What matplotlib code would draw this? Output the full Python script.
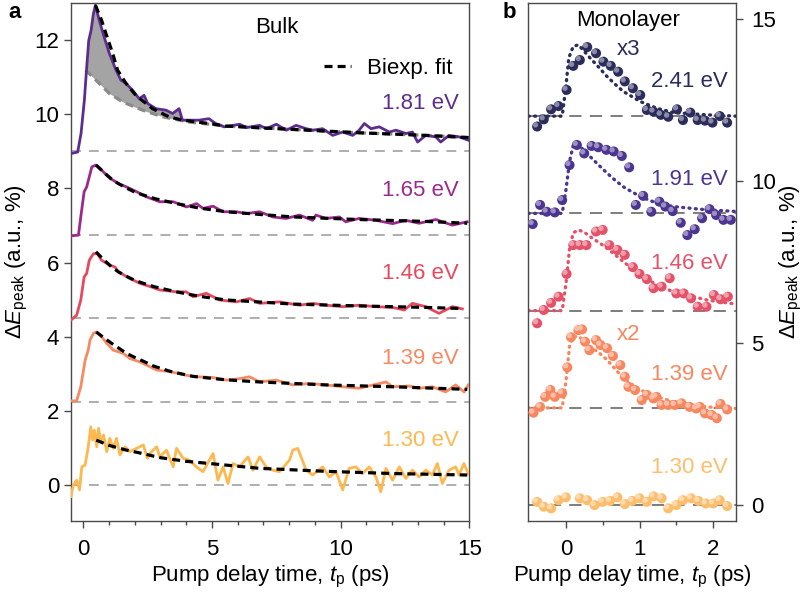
import numpy as np
import matplotlib
matplotlib.use("Agg")
import matplotlib.pyplot as plt
from matplotlib.lines import Line2D
from matplotlib.transforms import ScaledTranslation

plt.rcParams['font.family'] = ['Liberation Sans', 'DejaVu Sans']
plt.rcParams['mathtext.fontset'] = 'custom'
plt.rcParams['mathtext.rm'] = 'Liberation Sans'
plt.rcParams['mathtext.it'] = 'Liberation Sans:italic'
plt.rcParams['font.size'] = 16

# ---------------- Bulk (panel a) ----------------
bulk_labels = ["1.81 eV", "1.65 eV", "1.46 eV", "1.39 eV", "1.30 eV"]
bulk_offsets = [9.0, 6.75, 4.5, 2.25, 0.0]
bulk_colors = ["#5c2d8f", "#9b2a8c", "#e8485f", "#f68a62", "#fdb84f"]

b181_t = [-0.48, -0.22, -0.09, 0.04, 0.13, 0.21, 0.30, 0.39, 0.47, 0.62, 0.81, 1.01, 1.27, 1.46, 1.66,
          1.91, 2.17, 2.36, 2.50, 2.82, 3.21, 3.47, 3.72, 3.85, 4.25, 4.50, 4.88, 5.14, 5.47, 6.08,
          6.34, 6.85, 7.11, 7.50, 7.89, 8.27, 8.66, 8.92, 9.30, 9.69, 10.08, 10.47, 10.72, 10.92, 11.18,
          11.50, 11.89, 12.15, 12.54, 12.79, 12.99, 13.31, 13.70, 13.89, 14.21, 14.60, 14.96]
b181_v = [8.94, 8.98, 9.48, 10.38, 11.27, 11.99, 12.26, 12.71, 12.94, 12.53, 12.08, 11.64, 11.19, 10.92, 10.83,
          10.65, 10.42, 10.51, 10.29, 10.15, 10.11, 10.02, 10.15, 9.84, 9.84, 9.84, 9.88, 9.75, 9.66, 9.73,
          9.64, 9.70, 9.61, 9.73, 9.57, 9.70, 9.61, 9.57, 9.61, 9.43, 9.52, 9.43, 9.57, 9.75, 9.61,
          9.66, 9.52, 9.57, 9.48, 9.52, 9.25, 9.43, 9.39, 9.25, 9.43, 9.39, 9.30]

b165_t = [-0.48, -0.19, -0.10, 0.03, 0.13, 0.23, 0.33, 0.49, 0.65, 0.84, 1.03, 1.16, 1.36, 1.68, 2.07,
          2.46, 2.97, 3.49, 4.01, 4.40, 4.65, 5.04, 5.43, 5.95, 6.33, 6.85, 7.36, 7.88, 8.40, 8.91,
          9.04, 9.43, 9.95, 10.20, 10.72, 11.37, 12.02, 12.53, 13.05, 13.70, 14.34, 14.92]
b165_v = [6.72, 6.74, 7.23, 7.91, 8.04, 8.31, 8.58, 8.63, 8.54, 8.40, 8.27, 8.22, 8.13, 8.04, 7.91,
          7.77, 7.64, 7.64, 7.50, 7.59, 7.46, 7.52, 7.37, 7.37, 7.32, 7.37, 7.23, 7.19, 7.28, 7.14,
          7.28, 7.19, 7.23, 7.10, 7.19, 7.14, 7.05, 7.14, 7.06, 7.16, 7.01, 7.10]

b146_t = [-0.48, -0.26, -0.10, 0.03, 0.13, 0.23, 0.39, 0.54, 0.71, 1.03, 1.23, 1.36, 1.81, 2.20, 2.65,
          2.97, 3.62, 4.00, 4.26, 4.78, 5.30, 5.95, 6.46, 6.85, 7.62, 8.40, 8.91, 9.43, 10.08, 10.72,
          11.37, 12.02, 12.47, 12.79, 13.31, 13.82, 14.34, 14.73]
b146_v = [4.45, 4.58, 4.99, 5.61, 5.71, 6.06, 6.24, 6.24, 6.06, 5.93, 5.88, 5.75, 5.57, 5.44, 5.34,
          5.26, 5.21, 5.21, 5.08, 5.17, 4.99, 4.94, 5.03, 4.90, 4.94, 4.85, 4.90, 4.85, 4.81, 4.85,
          4.81, 4.79, 4.72, 4.90, 4.81, 4.63, 4.81, 4.75]

b139_t = [-0.48, -0.26, -0.10, 0.07, 0.19, 0.26, 0.39, 0.50, 0.71, 0.91, 1.16, 1.55, 1.81, 2.20, 2.59,
          2.85, 3.36, 4.01, 4.40, 5.04, 5.56, 6.08, 6.46, 6.85, 7.49, 8.14, 8.78, 9.43, 10.08, 10.72,
          11.76, 12.02, 12.66, 13.05, 13.57, 14.08, 14.47, 14.80, 14.96]
b139_v = [2.27, 2.27, 2.65, 3.37, 3.64, 3.91, 4.09, 4.13, 4.00, 3.82, 3.64, 3.55, 3.41, 3.32, 3.19,
          3.10, 3.06, 2.96, 2.92, 2.90, 2.83, 2.87, 2.92, 2.78, 2.83, 2.70, 2.74, 2.70, 2.65, 2.61,
          2.78, 2.65, 2.67, 2.61, 2.65, 2.51, 2.70, 2.51, 2.70]

b130_t = [-0.48, -0.39, -0.26, -0.15, -0.06, 0.07, 0.19, 0.29, 0.36, 0.43, 0.52, 0.59, 0.68, 0.78, 0.91,
          1.03, 1.16, 1.29, 1.42, 1.62, 1.81, 2.07, 2.33, 2.49, 2.65, 2.85, 2.97, 3.23, 3.49, 3.62,
          3.88, 4.13, 4.39, 4.65, 5.04, 5.23, 5.43, 5.62, 5.82, 6.07, 6.40, 6.59, 6.85, 7.10, 7.36,
          7.62, 8.01, 8.14, 8.33, 8.46, 8.66, 8.91, 9.30, 9.56, 9.82, 10.08, 10.33, 10.59, 10.85, 11.11,
          11.37, 11.56, 11.76, 12.02, 12.28, 12.53, 12.79, 13.05, 13.31, 13.56, 13.76, 13.95, 14.21, 14.47,
          14.60, 14.79, 14.96]
b130_v = [-0.31, 0.00, 0.13, -0.13, 0.49, 0.54, 1.03, 1.57, 1.21, 1.48, 1.03, 1.53, 1.17, 1.35, 0.90,
          1.26, 0.99, 1.26, 0.81, 1.03, 0.90, 0.99, 1.08, 0.72, 0.90, 1.03, 0.76, 0.94, 0.49, 0.99,
          0.72, 0.67, 0.49, 0.36, 0.85, 0.13, 0.49, 0.04, 0.58, 0.49, 0.76, 0.40, 0.76, 0.49, 0.40,
          0.36, 0.67, 0.94, 0.99, 0.76, 0.40, 0.27, 0.49, 0.22, 0.36, -0.13, 0.45, 0.49, 0.31, 0.49,
          0.22, -0.18, 0.45, 0.13, 0.49, 0.18, 0.40, 0.22, 0.40, 0.27, 0.58, 0.04, 0.40, 0.49,
          0.27, 0.58, 0.31]

# biexponential fits
f181_t = [0.47, 0.70, 0.88, 1.14, 1.33, 1.66, 2.04, 2.69, 3.33, 3.85, 4.88, 5.56, 8.14, 10.72, 13.31, 15.0]
f181_v = [12.94, 12.55, 12.17, 11.64, 11.19, 10.83, 10.51, 10.15, 9.93, 9.84, 9.75, 9.68, 9.59, 9.50, 9.43, 9.37]
f165_t = [0.49, 0.80, 1.10, 1.36, 1.70, 2.00, 2.33, 2.80, 3.62, 4.50, 5.56, 7.00, 8.14, 10.72, 13.30, 14.92]
f165_v = [8.63, 8.43, 8.25, 8.13, 8.00, 7.90, 7.82, 7.72, 7.59, 7.47, 7.37, 7.29, 7.23, 7.16, 7.11, 7.06]
f146_t = [0.49, 0.80, 1.10, 1.36, 1.70, 2.00, 2.33, 2.80, 3.62, 4.50, 5.56, 7.00, 8.14, 10.72, 13.30, 14.73]
f146_v = [6.29, 6.07, 5.88, 5.75, 5.62, 5.52, 5.44, 5.34, 5.21, 5.09, 4.99, 4.93, 4.88, 4.83, 4.79, 4.76]
f139_t = [0.50, 0.80, 1.10, 1.40, 1.68, 2.00, 2.30, 2.72, 3.40, 4.26, 5.50, 6.85, 9.43, 12.02, 14.92]
f139_v = [4.13, 3.97, 3.82, 3.68, 3.55, 3.44, 3.35, 3.21, 3.06, 2.93, 2.84, 2.78, 2.70, 2.65, 2.58]
f130_t = [0.50, 1.00, 1.68, 2.30, 2.97, 4.00, 4.91, 6.85, 9.43, 12.02, 14.92]
f130_v = [1.21, 1.07, 0.94, 0.85, 0.74, 0.64, 0.58, 0.45, 0.37, 0.31, 0.27]

# slow component (grey dashed) of 1.81 eV fit
slow181_t = [0.09, 0.62, 1.01, 1.53, 2.30, 3.08, 4.11, 5.56, 8.14, 10.72, 13.31, 15.0]
slow181_v = [11.19, 10.83, 10.56, 10.33, 10.11, 9.93, 9.79, 9.68, 9.59, 9.50, 9.43, 9.37]

bulk_data = [(b181_t, b181_v), (b165_t, b165_v), (b146_t, b146_v), (b139_t, b139_v), (b130_t, b130_v)]
bulk_fits = [(f181_t, f181_v), (f165_t, f165_v), (f146_t, f146_v), (f139_t, f139_v), (f130_t, f130_v)]
bulk_label_y = [10.3, 7.95, 5.7, 3.4, 1.2]

# ---------------- Monolayer (panel b) ----------------
mono_labels = ["2.41 eV", "1.91 eV", "1.46 eV", "1.39 eV", "1.30 eV"]
mono_offsets = [12.0, 9.0, 6.0, 3.0, 0.0]
mono_colors = ["#2c2c5c", "#4b3590", "#e4526a", "#f6875f", "#fcbe6c"]

m241_t = [-0.39, -0.30, -0.20, -0.10, 0.01, 0.10, 0.19, 0.29, 0.41, 0.51, 0.61, 0.71, 0.80, 0.91, 1.01,
          1.10, 1.19, 1.29, 1.39, 1.51, 1.59, 1.69, 1.79, 1.89, 1.99, 2.09, 2.19]
m241_v = [11.68, 11.90, 12.21, 12.31, 12.81, 13.55, 13.73, 14.13, 13.94, 13.68, 13.55, 13.37, 13.07, 12.86, 12.65,
          12.19, 12.14, 12.04, 11.98, 12.21, 11.88, 12.11, 11.88, 11.86, 11.80, 12.00, 11.80]
m191_t = [-0.45, -0.35, -0.26, -0.15, -0.05, 0.05, 0.15, 0.25, 0.35, 0.44, 0.55, 0.65, 0.76, 0.86, 0.95,
          1.05, 1.16, 1.27, 1.35, 1.45, 1.56, 1.65, 1.75, 1.85, 1.95, 2.04, 2.14, 2.24]
m191_v = [8.67, 9.26, 9.05, 9.03, 9.41, 10.49, 11.11, 10.85, 11.08, 11.04, 10.96, 10.91, 10.77, 10.42, 9.26,
          9.54, 9.05, 9.36, 9.21, 9.07, 8.71, 8.33, 8.51, 8.85, 9.13, 8.95, 8.80, 8.80]
m146_t = [-0.39, -0.30, -0.20, -0.10, 0.01, 0.10, 0.19, 0.28, 0.41, 0.50, 0.59, 0.70, 0.80, 0.91, 1.00,
          1.10, 1.19, 1.30, 1.41, 1.50, 1.60, 1.70, 1.79, 1.91, 2.01, 2.10, 2.20]
m146_v = [5.61, 6.02, 6.24, 6.43, 7.13, 8.02, 8.02, 8.02, 8.44, 8.49, 8.02, 7.87, 7.72, 7.34, 7.13,
          6.97, 6.69, 6.74, 7.00, 6.53, 6.53, 6.38, 6.12, 6.12, 6.48, 6.35, 6.43]
m139_t = [-0.44, -0.35, -0.28, -0.21, -0.15, -0.05, 0.02, 0.07, 0.17, 0.22, 0.26, 0.32, 0.41, 0.47, 0.56,
          0.64, 0.74, 0.80, 0.85, 0.94, 1.03, 1.10, 1.19, 1.23, 1.30, 1.39, 1.48, 1.57, 1.68, 1.77,
          1.82, 1.89, 1.98, 2.05, 2.10, 2.19]
m139_v = [2.85, 3.03, 3.34, 3.55, 3.34, 3.45, 4.25, 5.18, 5.40, 5.42, 5.04, 4.78, 5.09, 4.94, 4.84,
          4.60, 4.32, 3.96, 3.65, 3.55, 3.24, 3.40, 3.29, 3.34, 3.09, 3.09, 3.09, 3.14, 3.03, 2.98,
          3.03, 2.83, 2.78, 2.68, 3.12, 2.95]
m130_t = [-0.39, -0.30, -0.20, -0.10, 0.00, 0.19, 0.29, 0.39, 0.50, 0.60, 0.70, 0.80, 0.90, 1.00, 1.10,
          1.19, 1.30, 1.39, 1.50, 1.59, 1.70, 1.80, 1.90, 2.00, 2.09, 2.19]
m130_v = [0.10, -0.05, -0.10, 0.15, 0.24, 0.21, 0.15, 0.00, 0.10, 0.13, 0.24, 0.03, 0.13, 0.21, 0.10,
          0.27, 0.21, -0.10, 0.00, 0.15, 0.21, 0.13, 0.05, 0.05, 0.15, -0.03]

# dotted fits
g241_t = [-0.51, -0.05, 0.00, 0.04, 0.10, 0.17, 0.25, 0.33, 0.45, 0.56, 0.67, 0.78, 0.90, 1.01, 1.24, 1.46, 1.91, 2.31]
g241_v = [12.0, 12.0, 12.9, 13.8, 14.15, 14.2, 14.0, 13.79, 13.5, 13.22, 12.98, 12.76, 12.6, 12.45, 12.24, 12.11, 12.04, 12.0]
g191_t = [-0.51, -0.05, 0.00, 0.05, 0.10, 0.15, 0.22, 0.33, 0.45, 0.56, 0.67, 0.78, 0.90, 1.01, 1.24, 1.46, 1.91, 2.31]
g191_v = [9.0, 9.0, 9.7, 10.6, 11.1, 11.16, 11.0, 10.75, 10.48, 10.24, 10.02, 9.82, 9.66, 9.52, 9.31, 9.21, 9.11, 9.06]
g146_t = [-0.51, -0.05, 0.00, 0.05, 0.10, 0.17, 0.25, 0.33, 0.45, 0.56, 0.67, 0.78, 0.90, 1.01, 1.24, 1.46, 1.91, 2.31]
g146_v = [6.0, 6.0, 6.8, 7.9, 8.4, 8.49, 8.42, 8.28, 8.1, 7.92, 7.72, 7.51, 7.30, 7.10, 6.79, 6.58, 6.33, 6.2]
g139_t = [-0.51, -0.05, 0.00, 0.05, 0.10, 0.17, 0.25, 0.33, 0.45, 0.56, 0.67, 0.78, 0.90, 1.01, 1.24, 1.46, 1.91, 2.31]
g139_v = [3.0, 3.0, 3.8, 4.9, 5.2, 5.2, 5.08, 4.89, 4.7, 4.48, 4.2, 3.91, 3.72, 3.55, 3.34, 3.19, 3.03, 2.98]

mono_data = [(m241_t, m241_v), (m191_t, m191_v), (m146_t, m146_v), (m139_t, m139_v), (m130_t, m130_v)]
mono_fits = [(g241_t, g241_v), (g191_t, g191_v), (g146_t, g146_v), (g139_t, g139_v), None]
mono_label_y = [13.06, 10.04, 7.46, 4.04, 1.17]

# ---------------- Figure ----------------
W, H = 806, 593
fig = plt.figure(figsize=(W / 100, H / 100), dpi=100)
ax1 = fig.add_axes([71 / W, 1 - 521 / H, (469.3 - 71) / W, 518 / H])
ax2 = fig.add_axes([528.3 / W, 1 - 521 / H, (736 - 528.3) / W, 518 / H])

spine_c = "#4a4a4a"
for ax in (ax1, ax2):
    for s in ax.spines.values():
        s.set_color(spine_c)
        s.set_linewidth(1.0)
    ax.tick_params(which='both', direction='out', color=spine_c, width=1.0, labelsize=16)
    ax.tick_params(which='major', length=5)
    ax.tick_params(which='minor', length=3)

# panel a
ax1.set_xlim(-0.48, 15)
ax1.set_ylim(-0.97, 13.0)
ax1.set_xticks([0, 5, 10, 15])
ax1.set_xticks(np.arange(0, 15.1, 1), minor=True)
ax1.set_yticks(np.arange(0, 13, 2))
ax1.tick_params(axis='x', pad=8)

for off in bulk_offsets:
    ax1.axhline(off, color="#a8a8a8", lw=1.3, dashes=(5.5, 4.4), zorder=1)

# shading between data and slow component
st = np.array(b181_t)
sv = np.array(b181_v)
mask = (st >= 0.09) & (st <= 4.3)
slow_on = np.interp(st[mask], slow181_t, slow181_v)
ax1.fill_between(st[mask], slow_on, sv[mask], color="#a4a4a4", lw=0, zorder=2)
ax1.plot(slow181_t, slow181_v, color="#8a8a8a", lw=2.3, dashes=(2.5, 1.6), zorder=3)

for (t, v), c in zip(bulk_data, bulk_colors):
    ax1.plot(t, v, color=c, lw=2.0, zorder=4, solid_joinstyle='round')
for (t, v) in bulk_fits:
    ax1.plot(t, v, color="black", lw=2.3, dashes=(2.5, 1.6), zorder=5)

for lab, y, c in zip(bulk_labels, bulk_label_y, bulk_colors):
    ax1.text(14.6, y, lab, color=c, ha='right', va='center', fontsize=16)
ax1.text(7.5, 12.35, "Bulk", ha='center', va='center', fontsize=16)
hl = Line2D([], [], color='black', lw=2.3, dashes=(2.5, 1.6))
ax1.legend([hl], ["Biexp. fit"], loc='center right', bbox_to_anchor=(0.985, 0.874),
           frameon=False, handlelength=1.2, handletextpad=0.7, borderpad=0, fontsize=16)

ax1.set_xlabel(r"Pump delay time, $t_{\rm p}$ (ps)", fontsize=16)
ax1.set_ylabel(r"$\Delta \mathit{E}_{\rm peak}$ (a.u., %)", fontsize=16)
ax1.yaxis.set_label_coords(-0.103, 0.5)
ax1.xaxis.set_label_coords(0.5, -0.083)

# panel b
ax2.set_xlim(-0.51, 2.31)
ax2.set_ylim(-0.49, 15.49)
ax2.set_xticks([0, 1, 2])
ax2.set_xticks([0.5, 1.5], minor=True)
ax2.set_yticks([0, 5, 10, 15])
ax2.yaxis.tick_right()
ax2.yaxis.set_label_position('right')
ax2.tick_params(axis='x', pad=8)
ax2.tick_params(axis='y', pad=6)

for off in mono_offsets:
    ax2.axhline(off, color="#5a5a5a", lw=1.1, dashes=(8, 5.5), zorder=1)

for fit, c in zip(mono_fits, mono_colors):
    if fit is None:
        continue
    ax2.plot(fit[0], fit[1], color=c, lw=2.4, linestyle=(0, (0.3, 1.6)),
             dash_capstyle='round', zorder=2)

hl_off = ScaledTranslation(-1.2 / 72, 1.2 / 72, fig.dpi_scale_trans)


def lighten(c, f):
    rgb = np.array(matplotlib.colors.to_rgb(c))
    return tuple(rgb + (1 - rgb) * f)


for (t, v), c in zip(mono_data, mono_colors):
    ax2.scatter(t, v, s=52, color=c, edgecolors='none', zorder=3)
    ax2.scatter(t, v, s=15, color=lighten(c, 0.45), edgecolors='none', zorder=4,
                transform=ax2.transData + hl_off)

for lab, y, c in zip(mono_labels, mono_label_y, mono_colors):
    ax2.text(2.2, y, lab, color=c, ha='right', va='center', fontsize=16)
ax2.text(0.85, 14.95, "Monolayer", ha='center', va='center', fontsize=16)
ax2.text(0.69, 14.07, "x3", color=mono_colors[0], ha='left', va='center', fontsize=16)
ax2.text(0.69, 5.25, "x2", color=mono_colors[3], ha='left', va='center', fontsize=16)

ax2.set_xlabel(r"Pump delay time, $t_{\rm p}$ (ps)", fontsize=16)
ax2.set_ylabel(r"$\Delta \mathit{E}_{\rm peak}$ (a.u., %)", fontsize=16, rotation=90)
ax2.yaxis.set_label_coords(1.20, 0.5)
ax2.xaxis.set_label_coords(0.5, -0.083)

fig.text(8 / W, 1 - 12 / H, "a", fontsize=16, fontweight='bold', ha='left', va='center')
fig.text(503 / W, 1 - 12 / H, "b", fontsize=16, fontweight='bold', ha='left', va='center')

fig.savefig("out.png", dpi=100)
